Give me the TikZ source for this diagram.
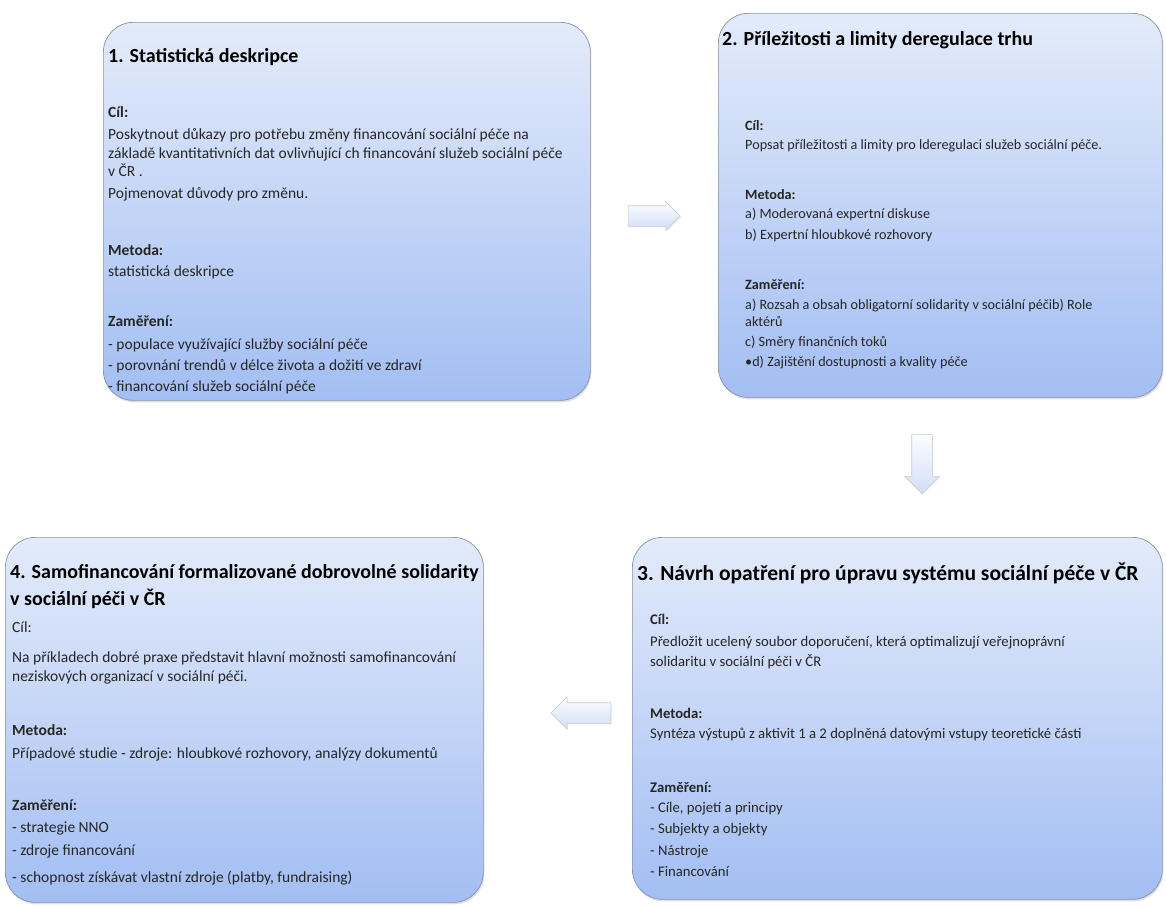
\documentclass[tikz,border=0pt]{standalone}
\usepackage{fontspec}
\setmainfont{Carlito}
\usetikzlibrary{shapes.arrows,shadows,positioning}

\definecolor{boxtop}{RGB}{227,235,250}
\definecolor{boxbot}{RGB}{163,190,243}
\definecolor{boxrim}{RGB}{140,146,160}
\definecolor{arrowtop}{RGB}{252,253,255}
\definecolor{arrowbot}{RGB}{210,221,247}

\tikzset{
  stagebox/.style={draw=boxrim, line width=0.7pt, rounded corners=30pt,
    top color=boxtop, bottom color=boxbot, anchor=north west,
    drop shadow={opacity=0.25, shadow xshift=1pt, shadow yshift=-2pt}},
  stagetitle/.style={anchor=west, inner sep=0pt, align=left,
    font=\fontsize{20}{27}\selectfont\bfseries},
  stagetext/.style={anchor=north west, inner sep=0pt, align=left, text=black!85,
    font=\fontsize{#1}{19}\selectfont},
  stagetext/.default=15.5,
  flowarrow/.style={single arrow, draw=gray!40, line width=0.6pt, top color=arrowtop,
    bottom color=arrowbot, inner sep=10pt,
    drop shadow={opacity=0.15, shadow xshift=1pt, shadow yshift=-1pt}}
}

\begin{document}
\begin{tikzpicture}[x=1pt, y=-1pt]
    \useasboundingbox (0,0) rectangle (1166,906);

    % Boxes
    \node[stagebox, minimum width=487pt, minimum height=378pt] (b1) at (103,22) {};
    \node[stagebox, minimum width=444pt, minimum height=384pt] (b2) at (718,13) {};
    \node[stagebox, minimum width=530pt, minimum height=362pt] (b3) at (632,537) {};
    \node[stagebox, minimum width=478pt, minimum height=365pt] (b4) at (5,537) {};

    % Arrows
    \node[flowarrow, minimum height=52pt, single arrow head extend=4pt] (a12) at (649,216) {};
    \node[flowarrow, minimum height=59pt, single arrow head extend=7pt,
        rotate=-90] (a23) at (922,459) {};
    \node[flowarrow, minimum height=60pt, single arrow head extend=6pt,
        rotate=180] (a34) at (586,713) {};

    % 1
    \node[stagetitle] (t1) at (108,57) {1. Statistická deskripce};
    \node[stagetext] (c1) at (108,106) {\textbf{Cíl:}\\[3pt]
        Poskytnout důkazy pro potřebu  změny financování sociální péče na\\
        základě kvantitativních dat ovlivňující ch financování služeb sociální péče\\[-1pt]
        v ČR .\\[3pt]
        Pojmenovat důvody pro změnu.};
    \node[stagetext] (m1) at (108,244) {\textbf{Metoda:}\\[2pt] statistická deskripce};
    \node[stagetext] (z1) at (108,316) {\textbf{Zaměření:}\\[4pt]
        - populace využívající služby sociální péče\\[2pt]
        - porovnání trendů v délce života  a dožití ve zdraví\\[2pt]
        - financování služeb sociální péče};

    % 2
    \node[stagetitle] (t2) at (722,40) {2. Příležitosti a limity deregulace trhu};
    \node[stagetext=14.2] (c2) at (745,120) {\textbf{Cíl:}\\
        Popsat příležitosti a limity pro lderegulaci služeb sociální péče.};
    \node[stagetext=14.2] (m2) at (745,189) {\textbf{Metoda:}\\
        a) Moderovaná expertní diskuse\\[2pt]
        b) Expertní hloubkové rozhovory};
    \node[stagetext=14.2] (z2) at (745,279) {\textbf{Zaměření:}\\[1pt]
        a) Rozsah a obsah obligatorní solidarity v sociální péčib) Role\\[-2pt]
        aktérů\\[1pt]
        c) Směry finančních toků\\[1pt]
        •d) Zajištění dostupnosti a kvality péče};

    % 3
    \node[stagetitle, font=\fontsize{21.5}{27}\selectfont\bfseries] (t3) at (637,573)
        {3. Návrh opatření pro úpravu systému sociální péče v ČR};
    \node[stagetext=14.7] (c3) at (650,614) {\textbf{Cíl:}\\[3pt]
        Předložit ucelený soubor  doporučení, která optimalizují veřejnoprávní\\[1pt]
        solidaritu v sociální péči v ČR};
    \node[stagetext=14.7] (m3) at (650,708) {\textbf{Metoda:}\\[1pt]
        Syntéza výstupů z aktivit 1 a 2 doplněná datovými vstupy teoretické části};
    \node[stagetext=14.7] (z3) at (650,782) {\textbf{Zaměření:}\\[1pt]
        - Cíle, pojetí a principy\\[2pt]
        - Subjekty a objekty\\[3pt]
        - Nástroje\\[2pt]
        - Financování};

    % 4
    \node[stagetitle] (t4) at (10,586.5) {4. Samofinancování  formalizované dobrovolné solidarity\\
        v sociální  péči v ČR};
    \node[stagetext] (c4) at (12,622) {Cíl:\\[11pt]
        Na příkladech dobré praxe  představit hlavní možnosti samofinancování\\
        neziskových organizací v sociální péči.};
    \node[stagetext] (m4) at (12,724) {\textbf{Metoda:}\\[4pt]
        Případové studie - zdroje: hloubkové rozhovory, analýzy dokumentů};
    \node[stagetext] (z4) at (12,800) {\textbf{Zaměření:}\\[3pt]
        - strategie NNO\\[4pt]
        - zdroje financování\\[8pt]
        - schopnost získávat vlastní zdroje (platby, fundraising)};

\end{tikzpicture}
\end{document}
